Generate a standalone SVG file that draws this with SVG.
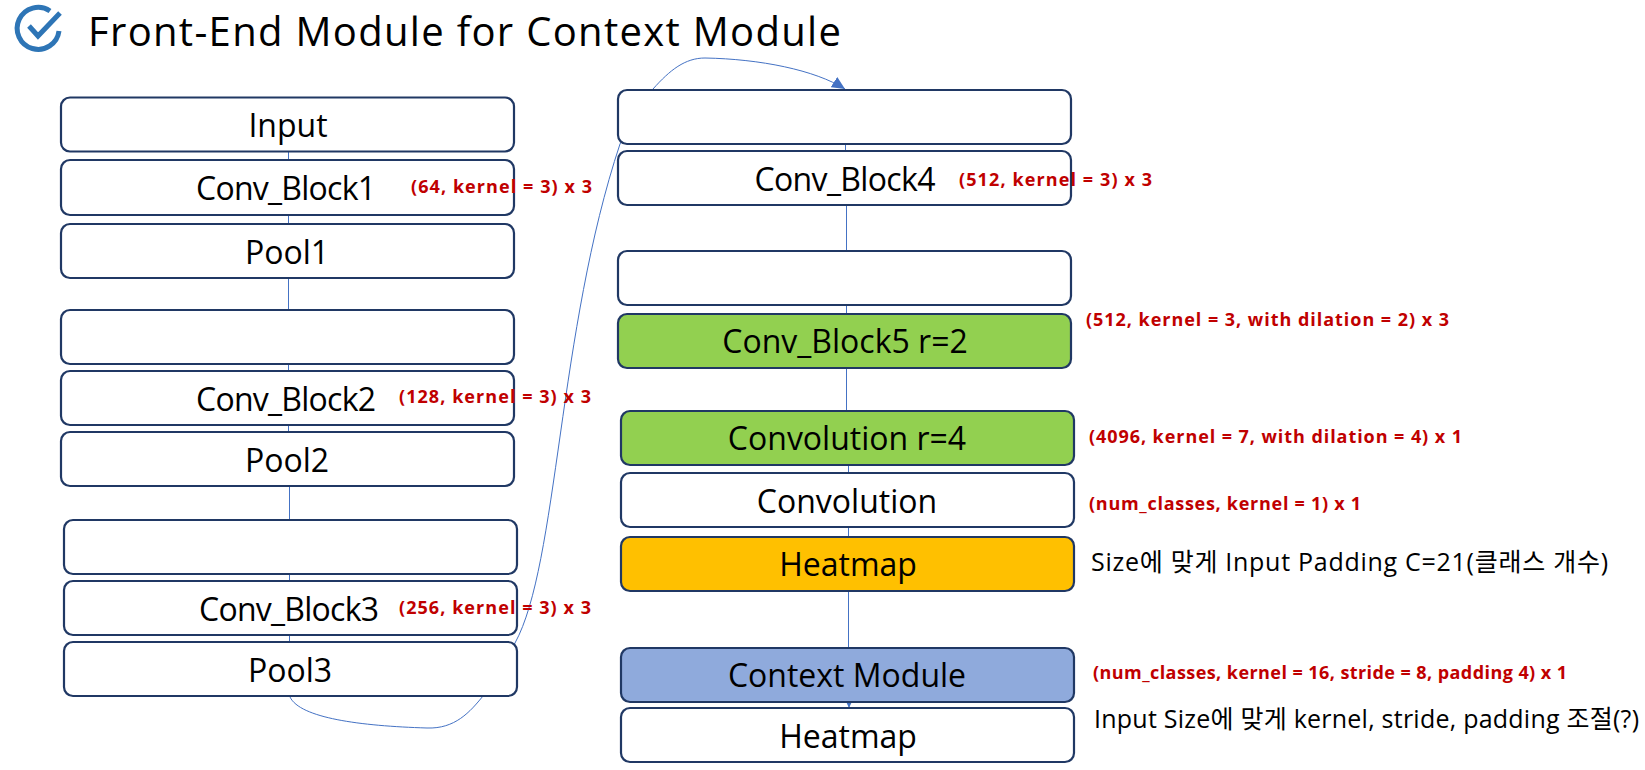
<svg xmlns="http://www.w3.org/2000/svg" width="1645" height="770" viewBox="0 0 1645 770">
<style>
text{font-family:"Open Sans","Noto Sans CJK KR",sans-serif;fill:#000;font-weight:400}
.box{fill:#fff;stroke:#203864;stroke-width:2.2}
.lbl{font-size:32px;text-anchor:middle}
.red{font-size:18px;font-weight:700;fill:#c00000}
.note{font-size:25px}
.con{fill:none;stroke:#4472c4;stroke-width:1}
</style>
<defs><marker id="arr" markerUnits="userSpaceOnUse" markerWidth="14" markerHeight="12" refX="13" refY="6" orient="auto"><path d="M0 0L13 6L0 12Z" fill="#4472c4"/></marker></defs>
<rect width="1645" height="770" fill="#fff"/>
<g id="icon" fill="none" stroke="#2e75b6" stroke-width="5"><path d="M50 11A21 21 0 1 0 59 31"/><path d="M29 26L38 36L60 13"/></g>
<text x="88" y="46" font-size="40" textLength="753">Front-End Module for Context Module</text>
<g id="connectors">
<path class="con" d="M288.500 151V486M289.500 486V642M290.500 642V697"/>
<path class="con" d="M845.500 144V205M846.500 205V411M848.500 411V648"/>
<path class="con" marker-end="url(#arr)" d="M849 702V708"/>
<path class="con" d="M290 697C300 718 360 726 427 728C455 729 470 712 483 696L515 643C558 565 558 330 620 144L653 89C670 70 685 58 705 58C760 59 815 70 845 89" marker-end="url(#arr)"/>
</g>
<g id="input"><rect class="box" x="61" y="97.500" width="453" height="54" rx="9"/><text class="lbl" x="288" y="137">Input</text></g>
<g id="conv1"><rect class="box" x="61" y="160" width="453" height="55" rx="9"/><text class="lbl" x="286" y="200" textLength="180">Conv_Block1</text><text class="red" x="411" y="193" textLength="181">(64, kernel = 3) x 3</text></g>
<g id="pool1"><rect class="box" x="61" y="224" width="453" height="54" rx="9"/><text class="lbl" x="287" y="264">Pool1</text></g>
<g id="blank2"><rect class="box" x="61" y="310" width="453" height="54" rx="9"/></g>
<g id="conv2"><rect class="box" x="61" y="371" width="453" height="54" rx="9"/><text class="lbl" x="286" y="411" textLength="180">Conv_Block2</text><text class="red" x="399" y="403" textLength="192">(128, kernel = 3) x 3</text></g>
<g id="pool2"><rect class="box" x="61" y="432" width="453" height="54" rx="9"/><text class="lbl" x="287" y="472">Pool2</text></g>
<g id="blank3"><rect class="box" x="64" y="520" width="453" height="54" rx="9"/></g>
<g id="conv3"><rect class="box" x="64" y="581" width="453" height="54" rx="9"/><text class="lbl" x="289" y="621" textLength="180">Conv_Block3</text><text class="red" x="399" y="614" textLength="192">(256, kernel = 3) x 3</text></g>
<g id="pool3"><rect class="box" x="64" y="642" width="453" height="54" rx="9"/><text class="lbl" x="290" y="682">Pool3</text></g>
<g id="blank4"><rect class="box" x="618" y="90" width="453" height="54" rx="9"/></g>
<g id="conv4"><rect class="box" x="618" y="151" width="453" height="54" rx="9"/><text class="lbl" x="845" y="191" textLength="181">Conv_Block4</text><text class="red" x="959" y="186" textLength="193">(512, kernel = 3) x 3</text></g>
<g id="blank5"><rect class="box" x="618" y="251" width="453" height="54" rx="9"/></g>
<g id="conv5"><rect class="box" x="618" y="314" width="453" height="54" rx="9" style="fill:#92d050"/><text class="lbl" x="845" y="353">Conv_Block5 r=2</text><text class="red" x="1086" y="326" textLength="363">(512, kernel = 3, with dilation = 2) x 3</text></g>
<g id="conv-r4"><rect class="box" x="621" y="411" width="453" height="54" rx="9" style="fill:#92d050"/><text class="lbl" x="847" y="450">Convolution r=4</text><text class="red" x="1089" y="443" textLength="373">(4096, kernel = 7, with dilation = 4) x 1</text></g>
<g id="convolution"><rect class="box" x="621" y="473" width="453" height="54" rx="9"/><text class="lbl" x="847" y="513">Convolution</text><text class="red" x="1089" y="510" textLength="272">(num_classes, kernel = 1) x 1</text></g>
<g id="heatmap1"><rect class="box" x="621" y="537" width="453" height="54" rx="9" style="fill:#ffc000"/><text class="lbl" x="848" y="576">Heatmap</text><text class="note" x="1091" y="571" textLength="517">Size에 맞게 Input Padding C=21(클래스 개수)</text></g>
<g id="context"><rect class="box" x="621" y="648" width="453" height="54" rx="9" style="fill:#8faadc"/><text class="lbl" x="847" y="687">Context Module</text><text class="red" x="1093" y="679" textLength="474">(num_classes, kernel = 16, stride = 8, padding 4) x 1</text></g>
<g id="heatmap2"><rect class="box" x="621" y="708" width="453" height="54" rx="9"/><text class="lbl" x="848" y="748">Heatmap</text><text class="note" x="1094" y="728" textLength="545">Input Size에 맞게 kernel, stride, padding 조절(?)</text></g>
</svg>
